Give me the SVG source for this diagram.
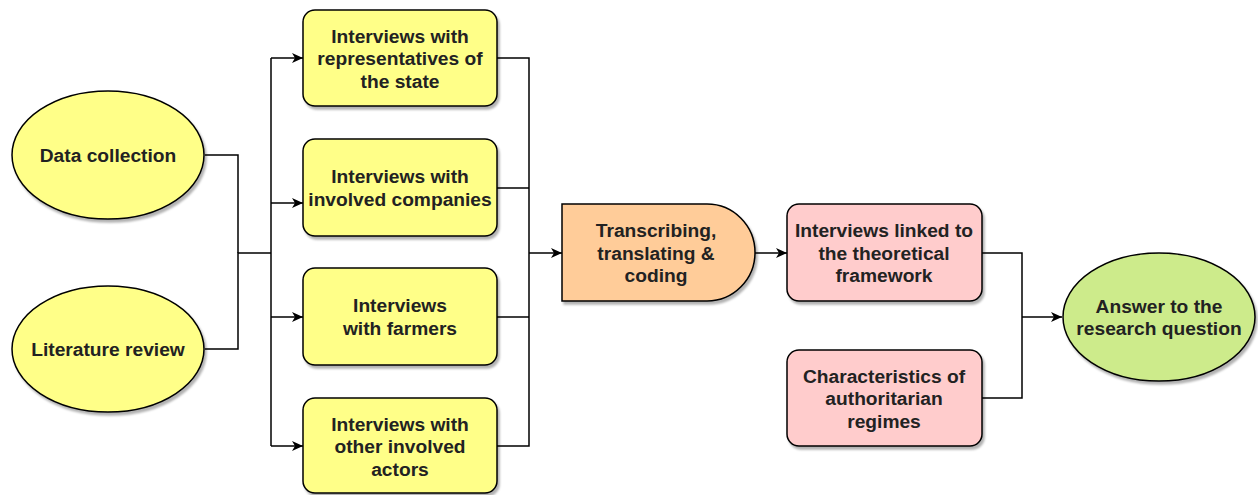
<svg xmlns="http://www.w3.org/2000/svg" width="1258" height="495" viewBox="0 0 1258 495">
<defs>
<filter id="sh" x="-10%" y="-10%" width="130%" height="130%">
<feDropShadow dx="2" dy="3" stdDeviation="1.2" flood-color="#000" flood-opacity="0.3"/>
</filter>
<marker id="arr" markerUnits="userSpaceOnUse" markerWidth="12" markerHeight="10" refX="11" refY="5" orient="auto">
<path d="M0,0 L11,5 L0,10 L3,5 Z" fill="#000"/>
</marker>
<style>
.n{stroke:#000;stroke-width:1.5;filter:url(#sh)}
.y{fill:#ffff88}
.o{fill:#ffcc99}
.p{fill:#ffcccc}
.g{fill:#cdeb8b}
.t{font-family:"Liberation Sans",Arial,sans-serif;font-weight:bold;font-size:19.2px;fill:#222;text-anchor:middle}
.c{fill:none;stroke:#000;stroke-width:1.5}
</style>
</defs>
<g id="connectors">
<path class="c" d="M205,155 H238 V253"/>
<path class="c" d="M205,349 H238 V253 H271"/>
<path class="c" d="M271,58 V446"/>
<path class="c" d="M271,58 H303" marker-end="url(#arr)"/>
<path class="c" d="M271,203 H303" marker-end="url(#arr)"/>
<path class="c" d="M271,317 H303" marker-end="url(#arr)"/>
<path class="c" d="M271,446 H303" marker-end="url(#arr)"/>
<path class="c" d="M497,58 H529 V446 H497"/>
<path class="c" d="M497,188 H529"/>
<path class="c" d="M497,317 H529"/>
<path class="c" d="M529,253 H562" marker-end="url(#arr)"/>
<path class="c" d="M755,253 H787" marker-end="url(#arr)"/>
<path class="c" d="M982,253 H1022 V398 H982"/>
<path class="c" d="M1022,317 H1062" marker-end="url(#arr)"/>
</g>
<g id="data-collection">
<ellipse class="n y" cx="108" cy="155" rx="96" ry="64"/>
<text class="t" x="108" y="162">Data collection</text>
</g>
<g id="literature-review">
<ellipse class="n y" cx="108" cy="349" rx="96" ry="63"/>
<text class="t" x="108" y="356">Literature review</text>
</g>
<g id="interviews-state">
<rect class="n y" x="303" y="10" width="194" height="96" rx="12"/>
<text class="t" x="400" y="43">Interviews with</text>
<text class="t" x="400" y="65">representatives of</text>
<text class="t" x="400" y="88">the state</text>
</g>
<g id="interviews-companies">
<rect class="n y" x="303" y="139" width="194" height="97" rx="12"/>
<text class="t" x="400" y="183">Interviews with</text>
<text class="t" x="400" y="206">involved companies</text>
</g>
<g id="interviews-farmers">
<rect class="n y" x="303" y="268" width="194" height="97" rx="12"/>
<text class="t" x="400" y="312">Interviews</text>
<text class="t" x="400" y="335">with farmers</text>
</g>
<g id="interviews-other">
<rect class="n y" x="303" y="398" width="194" height="95" rx="12"/>
<text class="t" x="400" y="431">Interviews with</text>
<text class="t" x="400" y="453">other involved</text>
<text class="t" x="400" y="476">actors</text>
</g>
<g id="transcribing">
<path class="n o" d="M562,204 H707 A48,48.5 0 0 1 707,301 H562 Z"/>
<text class="t" x="656" y="237">Transcribing,</text>
<text class="t" x="656" y="260">translating &amp;</text>
<text class="t" x="656" y="282">coding</text>
</g>
<g id="linked-framework">
<rect class="n p" x="787" y="204" width="195" height="97" rx="12"/>
<text class="t" x="884" y="237">Interviews linked to</text>
<text class="t" x="884" y="260">the theoretical</text>
<text class="t" x="884" y="282">framework</text>
</g>
<g id="authoritarian">
<rect class="n p" x="787" y="350" width="195" height="96" rx="12"/>
<text class="t" x="884" y="383">Characteristics of</text>
<text class="t" x="884" y="405">authoritarian</text>
<text class="t" x="884" y="428">regimes</text>
</g>
<g id="answer">
<ellipse class="n g" cx="1159" cy="317" rx="96" ry="64"/>
<text class="t" x="1159" y="313">Answer to the</text>
<text class="t" x="1159" y="335">research question</text>
</g>
</svg>
